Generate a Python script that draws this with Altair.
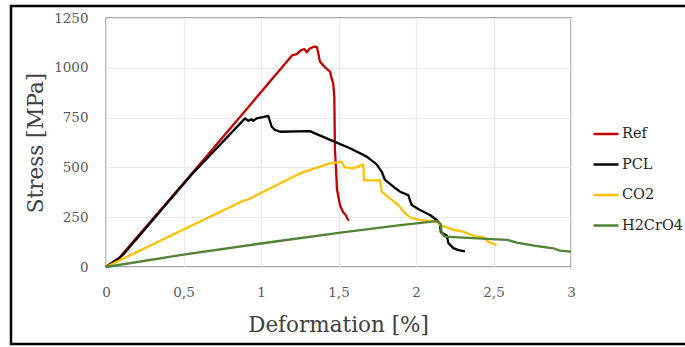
import altair as alt
import pandas as pd

# Stress–strain curves for the four specimen treatments
ref_x = [0, 0.04, 0.09, 0.55, 0.9, 1.2, 1.23, 1.26, 1.28, 1.295, 1.316, 1.348, 1.36,
         1.37, 1.38, 1.41, 1.445, 1.456, 1.466, 1.473, 1.477, 1.485, 1.49, 1.51, 1.53,
         1.545, 1.565]
ref_y = [0, 20, 50, 465, 786, 1062, 1069, 1089, 1094, 1078, 1098, 1106, 1104,
         1073, 1031, 1005, 981, 947, 922, 855, 590, 480, 390, 310, 275,
         262, 232]

pcl_x = [0, 0.04, 0.08, 0.11, 0.55, 0.897, 0.918, 0.94, 0.95, 0.972, 1.026, 1.047,
         1.069, 1.09, 1.123, 1.316, 1.348, 1.466, 1.574, 1.682, 1.746, 1.779, 1.8,
         1.854, 1.897, 1.95, 1.972, 2.026, 2.09, 2.134, 2.155, 2.16, 2.198, 2.209,
         2.241, 2.273, 2.316]
pcl_y = [0, 22, 40, 62, 462, 746, 734, 741, 734, 746, 755, 758,
         704, 688, 679, 682, 671, 632, 596, 554, 515, 478, 437,
         403, 378, 361, 311, 286, 261, 236, 215, 175, 158, 120,
         95, 85, 78]

co2_x = [0, 0.5, 0.88, 0.9, 0.92, 1.208, 1.252, 1.434, 1.51, 1.52, 1.542, 1.596,
         1.66, 1.665, 1.768, 1.779, 1.832, 1.886, 1.929, 1.961, 2.026, 2.134, 2.155,
         2.241, 2.305, 2.391, 2.434, 2.466, 2.52]
co2_y = [0, 188, 330, 336, 340, 453, 470, 518, 528, 529, 500, 495,
         515, 435, 435, 378, 345, 311, 270, 249, 236, 227, 211,
         186, 177, 152, 150, 127, 110]

h2_x = [0, 0.5, 1.0, 1.5, 1.9, 2.09, 2.134, 2.16, 2.166, 2.187, 2.305, 2.52, 2.59,
        2.65, 2.77, 2.886, 2.929, 3.0]
h2_y = [0, 62, 118, 171, 210, 227, 232, 215, 169, 152, 147, 139, 136,
        122, 106, 94, 82, 77]

series_names = ["Ref", "PCL", "CO2", "H2CrO4"]
series_colors = ["#C00000", "#000000", "#FFC000", "#538135"]
x_ticks = [0, 0.5, 1, 1.5, 2, 2.5, 3]
y_ticks = [0, 250, 500, 750, 1000, 1250]

rows = []
for name, xs, ys in zip(series_names,
                        [ref_x, pcl_x, co2_x, h2_x],
                        [ref_y, pcl_y, co2_y, h2_y]):
    for i, (xv, yv) in enumerate(zip(xs, ys)):
        rows.append({"serie": name, "x": xv, "y": yv, "idx": i})
df = pd.DataFrame(rows)

FONT = "DejaVu Serif"

lines = alt.Chart(df).mark_line(strokeWidth=2.3, strokeJoin="round").encode(
    x=alt.X("x:Q",
            scale=alt.Scale(domain=[0, 3], nice=False, zero=False),
            axis=alt.Axis(values=x_ticks, format=".1~f",
                          labelExpr="replace(datum.label, '.', ',')",
                          labelFlush=False, labelOverlap=False,
                          title="Deformation [%]", titleX=232, titleY=58,
                          titleBaseline="middle", titleAlign="center",
                          labelPadding=18, labelBaseline="top")),
    y=alt.Y("y:Q",
            scale=alt.Scale(domain=[0, 1250], nice=False),
            axis=alt.Axis(values=y_ticks, format="d", title="Stress [MPa]",
                          labelFlush=False, labelOverlap=False,
                          titleX=-70, titleY=124.5, titleAngle=-90,
                          titleBaseline="middle", titleAlign="center",
                          labelPadding=18)),
    color=alt.Color("serie:N",
                    scale=alt.Scale(domain=series_names, range=series_colors),
                    legend=alt.Legend(title=None, orient="none",
                                      legendX=486, legendY=102,
                                      symbolType="stroke", symbolSize=625,
                                      symbolStrokeWidth=2.5, labelOffset=2,
                                      rowPadding=9.5, labelFont=FONT,
                                      labelFontSize=14.5, labelColor="#262626",
                                      labelLimit=200)),
    order="idx:Q",
)

# Outer frame around the whole figure
frame = alt.Chart(pd.DataFrame({"f": [0]})).mark_rect(
    fill=None, stroke="#000000", strokeWidth=2.5
).encode(
    x=alt.value(-95), x2=alt.value(600),
    y=alt.value(-12), y2=alt.value(326),
)

chart = alt.layer(lines, frame).properties(
    width=465, height=249,
    autosize=alt.AutoSizeParams(type="none"),
    padding={"left": 106, "top": 18, "right": 114, "bottom": 80},
    background="white",
).configure_view(
    stroke="#595959", strokeWidth=1.3
).configure_axis(
    grid=True, gridColor="#E4E9F0", gridWidth=1.2,
    ticks=False, domain=False,
    labelFont=FONT, labelFontSize=13.5, labelColor="#595959",
    titleFont=FONT, titleFontSize=21.5, titleColor="#404040",
    titleFontWeight="normal",
)

chart.save("out.html", embed_options={"renderer": "svg", "actions": False})
